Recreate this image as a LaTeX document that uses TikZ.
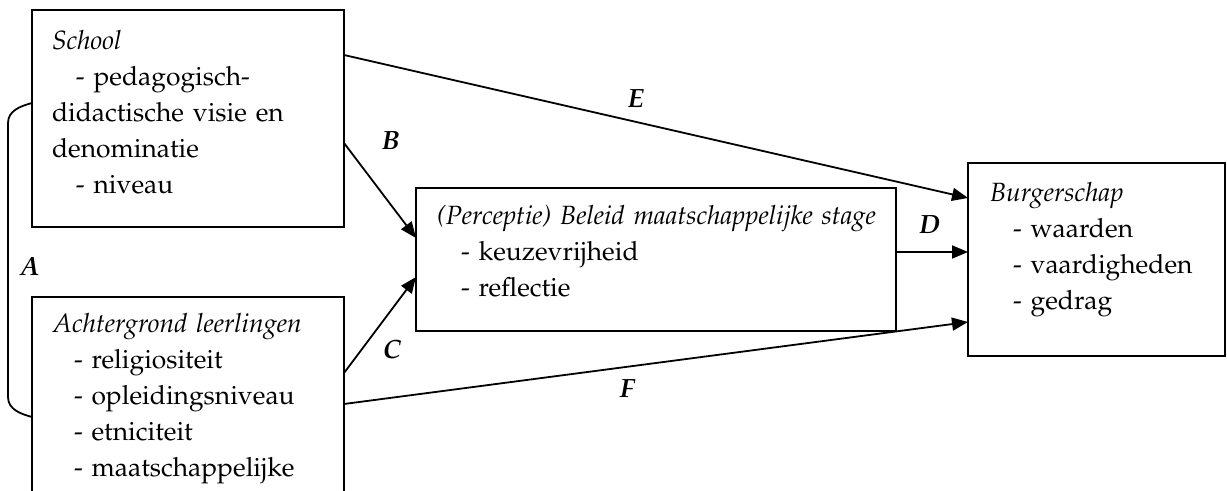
\documentclass[tikz,border=0pt]{standalone}
\usepackage[T1]{fontenc}
\usepackage{palatino}
\usetikzlibrary{arrows.meta, calc}

\begin{document}
\begin{tikzpicture}[x=0.5pt, y=-0.5pt, >={Triangle[length=8pt, width=6.5pt]},
    every node/.style={font=\fontsize{13.2pt}{18pt}\selectfont},
    box/.style={draw, line width=0.9pt, anchor=north west, align=left, inner ysep=0pt, outer sep=0pt},
    arr/.style={->, line width=0.9pt},
    lbl/.style={font=\fontsize{13.2pt}{15pt}\selectfont\bfseries\itshape, inner sep=0pt}]
        \clip (0,0) rectangle (1227,491);

        % Boxes
        \node (school) [box, inner xsep=10pt, text width=136pt, text height=20pt, text depth=88.5pt] at (32,10) {\textit{School}\\
            \hspace*{12pt}- pedagogisch-\\
            didactische visie en\\
            denominatie\\
            \hspace*{12pt}- niveau};
        \node (achter) [box, inner xsep=10.5pt, text width=135pt, text height=18pt, text depth=104pt] at (32,297) {\textit{Achtergrond leerlingen}\\
            \hspace*{10.5pt}- religiositeit\\
            \hspace*{10.5pt}- opleidingsniveau\\
            \hspace*{10.5pt}- etniciteit\\
            \hspace*{10.5pt}- maatschappelijke};
        \node (beleid) [box, inner xsep=10.5pt, text width=219pt, text height=18.5pt, text depth=53pt] at (416,188) {\mbox{\textit{(Perceptie) Beleid maatschappelijke stage}}\\
            \hspace*{12pt}- keuzevrijheid\\
            \hspace*{12pt}- reflectie};
        \node (burger) [box, inner xsep=11pt, text width=106.5pt, text height=19.5pt, text depth=77pt] at (968,163) {\textit{Burgerschap}\\
            \hspace*{11.5pt}- waarden\\
            \hspace*{11.5pt}- vaardigheden\\
            \hspace*{11.5pt}- gedrag};

        % Relations
        \draw [line width=0.9pt] ([yshift=-46.5pt]school.north west) to[out=195, in=90] ++(-24,20) -- ++(0,274) to[out=-90, in=165] ([yshift=-60pt]achter.north west);
        \node (labA) [lbl] at (30,267) {A};

        \draw [arr] ([yshift=-66.5pt]school.north east) -- ([yshift=-25pt]beleid.north west);
        \node (labB) [lbl] at (391,141) {B};

        \draw [arr] ([yshift=-38pt]achter.north east) -- ([yshift=-44.5pt]beleid.north west);
        \node (labC) [lbl] at (392,349) {C};

        \draw [arr] ([yshift=-32pt]beleid.north east) -- node[lbl, above=8.5pt, pos=0.47] (labD) {D} ([yshift=-44.5pt]burger.north west);

        \draw [arr] ([yshift=-22.5pt]school.north east) -- node[lbl, above=6.5pt, pos=0.468] (labE) {E} ([yshift=-17.5pt]burger.north west);

        \draw [arr] ([yshift=-53.5pt]achter.north east) -- node[lbl, below=6pt, pos=0.454] (labF) {F} ([yshift=-79.5pt]burger.north west);

\end{tikzpicture}
\end{document}
